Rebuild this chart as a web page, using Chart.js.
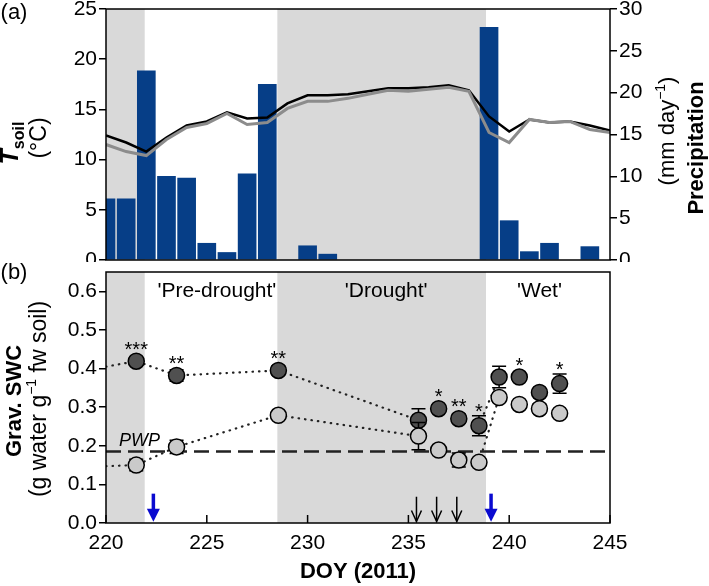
<!DOCTYPE html>
<html>
<head>
<meta charset="utf-8">
<script src="https://cdn.jsdelivr.net/npm/chart.js@4.4.1/dist/chart.umd.min.js"></script>
<style>
  html, body { margin: 0; padding: 0; background: #fff; }
  #wrap { position: relative; width: 709px; height: 586px; }
  #topChart { position: absolute; left: 0; top: 0; }
  #botChart { position: absolute; left: 0; top: 262px; }
</style>
</head>
<body>
<div id="wrap">
  <canvas id="topChart" width="709" height="262"></canvas>
  <canvas id="botChart" width="709" height="324"></canvas>
</div>
<script>
// --- Data: panel (a) ---
const tDays = [220, 221, 222, 223, 224, 225, 226, 227, 228, 229, 230, 231, 232,
               233, 234, 235, 236, 237, 238, 239, 240, 241, 242, 243, 244, 245];
const tsoilBlack = [12.4, 11.7, 10.8, 12.2, 13.4, 13.8, 14.7, 14.1, 14.2, 15.6, 16.4, 16.4, 16.5,
                    16.8, 17.1, 17.1, 17.2, 17.4, 16.9, 14.3, 12.8, 14.0, 13.7, 13.8, 13.4, 12.9];
const tsoilGrey = [11.5, 10.8, 10.4, 12.0, 13.2, 13.6, 14.6, 13.5, 13.7, 15.1, 15.8, 15.8, 16.1,
                   16.5, 16.9, 16.8, 17.0, 17.2, 16.8, 12.7, 11.7, 14.0, 13.7, 13.8, 13.0, 12.7];
const rainDays = [220, 221, 222, 223, 224, 225, 226, 227, 228, 230, 231, 239, 240, 241, 242, 244];
const rainMm = [7.3, 7.3, 22.6, 10.0, 9.8, 2.0, 0.9, 10.3, 21.0, 1.7, 0.7, 27.8, 4.7, 1.0, 2.0, 1.6];

// grey periods (DOY)
const shadeStart = [220, 228.5];
const shadeEnd = [221.92, 238.85];

// --- Data: panel (b) ---
const swcDays = [221.5, 223.5, 228.55, 235.5, 236.5, 237.5, 238.5, 239.5, 240.5, 241.5, 242.5];
const swcDark = [0.419, 0.382, 0.395, 0.266, 0.296, 0.270, 0.252, 0.378, 0.378, 0.338, 0.361];
const swcDarkErr = [0.010, 0.015, 0.012, 0.030, 0.010, 0.012, 0.026, 0.028, 0.010, 0.010, 0.025];
const swcLight = [0.150, 0.197, 0.279, 0.225, 0.189, 0.163, 0.157, 0.325, 0.307, 0.296, 0.284];
const swcLightErr = [0.015, 0.017, 0.010, 0.035, 0.008, 0.018, 0.008, 0.012, 0.008, 0.012, 0.008];
const sigLabels = ['***', '**', '**', '', '*', '**', '*', '', '*', '', '*'];
const dottedRuns = [[0, 1, 2, 3], [6, 7]];
const swcDarkAt220 = 0.405;
const swcLightAt220 = 0.147;
const pwp = 0.185;
const phaseNames = ["'Pre-drought'", "'Drought'", "'Wet'"];
const phaseCentre = [225.5, 233.9, 241.5];
const blackArrowDays = [235.4, 236.4, 237.4];
const blueArrowDays = [222.35, 239.1];

// --- Styles ---
const FONT = "'Liberation Sans', Arial, sans-serif";
const SHADE = '#d9d9d9';
const tickFont = { family: FONT, size: 21 };

// --- Helpers ---
function richText(ctx, x, y, parts, rotate) {
  // parts: [{t, font, dy}] ; (x, y) = centre along text direction, baseline position across it
  ctx.save();
  ctx.translate(x, y);
  if (rotate) ctx.rotate(-Math.PI / 2);
  let w = 0;
  parts.forEach(p => { ctx.font = p.font; w += ctx.measureText(p.t).width; });
  let cx = -w / 2;
  ctx.textBaseline = 'alphabetic';
  ctx.textAlign = 'left';
  ctx.fillStyle = '#000';
  parts.forEach(p => {
    ctx.font = p.font;
    ctx.fillText(p.t, cx, p.dy || 0);
    cx += ctx.measureText(p.t).width;
  });
  ctx.restore();
}

// fixed axis box, no extra padding for the end labels
const fixWidth = w => s => {
  s.width = w;
  s.paddingTop = 0; s.paddingBottom = 0; s.paddingLeft = 0; s.paddingRight = 0;
};

const shadePlugin = {
  id: 'shade',
  beforeDatasetsDraw(chart) {
    const { ctx, chartArea: a, scales: { x } } = chart;
    ctx.save();
    ctx.fillStyle = SHADE;
    shadeStart.forEach((s, i) => {
      const x0 = Math.max(a.left, x.getPixelForValue(s));
      const x1 = Math.min(a.right, x.getPixelForValue(shadeEnd[i]));
      ctx.fillRect(x0, a.top, x1 - x0, a.bottom - a.top);
    });
    ctx.restore();
  }
};

const framePlugin = {
  id: 'frame',
  afterDatasetsDraw(chart) {
    const { ctx, chartArea: a } = chart;
    ctx.save();
    ctx.strokeStyle = '#000';
    ctx.lineWidth = 1.5;
    ctx.strokeRect(a.left, a.top, a.right - a.left, a.bottom - a.top);
    ctx.restore();
  }
};

const topTextPlugin = {
  id: 'topText',
  afterDraw(chart) {
    const ctx = chart.ctx;
    richText(ctx, 14, 19, [{ t: '(a)', font: `22px ${FONT}` }], false);
    richText(ctx, 18, 143, [
      { t: 'T', font: `italic bold 25px ${FONT}` },
      { t: 'soil', font: `bold 16px ${FONT}`, dy: 6 }
    ], true);
    richText(ctx, 46, 138, [{ t: '(°C)', font: `23px ${FONT}` }], true);
    richText(ctx, 674, 131, [
      { t: '(mm day', font: `22px ${FONT}` },
      { t: '\u22121', font: `14px ${FONT}`, dy: -9 },
      { t: ')', font: `22px ${FONT}` }
    ], true);
    richText(ctx, 703, 148, [{ t: 'Precipitation', font: `bold 22px ${FONT}` }], true);
  }
};

const errorBarPlugin = {
  id: 'errorBars',
  beforeDatasetDraw(chart, args) {
    const ds = chart.data.datasets[args.index];
    if (!ds.errorBars) return;
    const { ctx, scales: { x, y } } = chart;
    ctx.save();
    ctx.strokeStyle = '#000';
    ctx.lineWidth = 1.5;
    ds.data.forEach((p, i) => {
      const px = x.getPixelForValue(p.x);
      const y0 = y.getPixelForValue(p.y - ds.errorBars[i]);
      const y1 = y.getPixelForValue(p.y + ds.errorBars[i]);
      ctx.beginPath();
      ctx.moveTo(px, y0); ctx.lineTo(px, y1);
      ctx.moveTo(px - 7, y0); ctx.lineTo(px + 7, y0);
      ctx.moveTo(px - 7, y1); ctx.lineTo(px + 7, y1);
      ctx.stroke();
    });
    ctx.restore();
  }
};

const pwpPlugin = {
  id: 'pwp',
  beforeDatasetsDraw(chart) {
    const { ctx, chartArea: a, scales: { y } } = chart;
    const py = y.getPixelForValue(pwp);
    ctx.save();
    ctx.strokeStyle = '#222';
    ctx.lineWidth = 2.5;
    ctx.setLineDash([15, 7]);
    ctx.beginPath();
    ctx.moveTo(a.left, py); ctx.lineTo(a.right, py);
    ctx.stroke();
    ctx.restore();
  }
};

function arrow(ctx, px, yTop, yTip, blue) {
  ctx.save();
  ctx.strokeStyle = blue ? '#0a0ad0' : '#000';
  ctx.fillStyle = ctx.strokeStyle;
  ctx.lineWidth = blue ? 3.5 : 1.5;
  ctx.beginPath();
  ctx.moveTo(px, yTop);
  ctx.lineTo(px, blue ? yTip - 8 : yTip);
  ctx.stroke();
  if (blue) {
    ctx.beginPath();
    ctx.moveTo(px - 6.5, yTip - 13);
    ctx.lineTo(px + 6.5, yTip - 13);
    ctx.lineTo(px, yTip);
    ctx.closePath();
    ctx.fill();
  } else {
    ctx.beginPath();
    ctx.moveTo(px - 5, yTip - 11);
    ctx.lineTo(px, yTip);
    ctx.lineTo(px + 5, yTip - 11);
    ctx.stroke();
  }
  ctx.restore();
}

const botExtrasPlugin = {
  id: 'botExtras',
  afterDatasetsDraw(chart) {
    const { ctx, chartArea: a, scales: { x, y } } = chart;
    // inward x ticks
    ctx.save();
    ctx.strokeStyle = '#000';
    ctx.lineWidth = 1.5;
    x.ticks.forEach(t => {
      const px = x.getPixelForValue(t.value);
      ctx.beginPath();
      ctx.moveTo(px, a.bottom); ctx.lineTo(px, a.bottom - 8);
      ctx.stroke();
    });
    ctx.restore();
    // significance stars
    ctx.save();
    ctx.font = `20px ${FONT}`;
    ctx.textAlign = 'center';
    ctx.textBaseline = 'alphabetic';
    ctx.fillStyle = '#000';
    sigLabels.forEach((s, i) => {
      if (!s) return;
      const px = x.getPixelForValue(swcDays[i]);
      const pc = y.getPixelForValue(swcDark[i]);
      const top = Math.min(pc - 8, y.getPixelForValue(swcDark[i] + swcDarkErr[i]));
      ctx.fillText(s, px, top - 9 + 11.5);
    });
    ctx.restore();
    // arrows
    blackArrowDays.forEach(d => arrow(ctx, x.getPixelForValue(d), y.getPixelForValue(0.068), y.getPixelForValue(0.004), false));
    blueArrowDays.forEach(d => arrow(ctx, x.getPixelForValue(d), y.getPixelForValue(0.076), y.getPixelForValue(0.003), true));
  },
  afterDraw(chart) {
    const { ctx, scales: { x } } = chart;
    phaseNames.forEach((n, i) => {
      richText(ctx, x.getPixelForValue(phaseCentre[i]), 35, [{ t: n, font: `21px ${FONT}` }], false);
    });
    ctx.save();
    ctx.font = `italic 18px ${FONT}`;
    ctx.fillStyle = '#000';
    ctx.textAlign = 'left';
    ctx.fillText('PWP', 119, 184);
    ctx.restore();
    richText(ctx, 14, 17, [{ t: '(b)', font: `22px ${FONT}` }], false);
    richText(ctx, 21, 139, [{ t: 'Grav. SWC', font: `bold 22px ${FONT}` }], true);
    richText(ctx, 46, 137, [
      { t: '(g water g', font: `23px ${FONT}` },
      { t: '\u22121', font: `14px ${FONT}`, dy: -10 },
      { t: ' fw soil)', font: `23px ${FONT}` }
    ], true);
    richText(ctx, 358, 316, [{ t: 'DOY (2011)', font: `bold 22px ${FONT}` }], false);
  }
};

function trend(values, startVal) {
  const pts = [{ x: 220, y: startVal }];
  dottedRuns.forEach((run, k) => {
    if (k > 0) {
      const prev = dottedRuns[k - 1][dottedRuns[k - 1].length - 1];
      pts.push({ x: (swcDays[prev] + swcDays[run[0]]) / 2, y: null });
    }
    run.forEach(i => pts.push({ x: swcDays[i], y: values[i] }));
  });
  return pts;
}

const yGrid = { drawOnChartArea: false, tickLength: 7, color: '#000', lineWidth: 1.5 };

// --- Panel (a) ---
new Chart(document.getElementById('topChart'), {
  type: 'bar',
  data: {
    datasets: [
      {
        type: 'line', data: tDays.map((d, i) => ({ x: d, y: tsoilGrey[i] })), yAxisID: 'y',
        borderColor: '#8c8c8c', borderWidth: 3, pointRadius: 0, tension: 0, order: 0
      },
      {
        type: 'line', data: tDays.map((d, i) => ({ x: d, y: tsoilBlack[i] })), yAxisID: 'y',
        borderColor: '#000', borderWidth: 2.5, pointRadius: 0, tension: 0, order: 1
      },
      {
        type: 'bar', data: rainDays.map((d, i) => ({ x: d, y: rainMm[i] })), yAxisID: 'y2',
        backgroundColor: '#063e87', barThickness: 18, grouped: false, clip: 0, order: 2
      }
    ]
  },
  options: {
    responsive: false, animation: false, devicePixelRatio: 1,
    layout: { padding: { top: 9, bottom: 2, left: 0, right: 0 }, autoPadding: false },
    plugins: { legend: { display: false }, tooltip: { enabled: false } },
    scales: {
      x: { type: 'linear', min: 220, max: 245, offset: false, display: false },
      y: {
        position: 'left', min: 0, max: 25,
        ticks: { stepSize: 5, includeBounds: false, font: tickFont, color: '#000', padding: 2 },
        grid: yGrid, border: { display: false },
        afterFit: fixWidth(106)
      },
      y2: {
        position: 'right', min: 0, max: 30,
        ticks: { stepSize: 5, includeBounds: false, font: tickFont, color: '#000', padding: 2 },
        grid: yGrid, border: { display: false },
        afterFit: fixWidth(99)
      }
    }
  },
  plugins: [shadePlugin, framePlugin, topTextPlugin]
});

// --- Panel (b) ---
const dotted = { borderColor: '#222', borderWidth: 2.2, borderDash: [0.5, 6], borderCapStyle: 'round', pointRadius: 0, spanGaps: false, showLine: true };
new Chart(document.getElementById('botChart'), {
  type: 'scatter',
  data: {
    datasets: [
      { type: 'line', data: trend(swcLight, swcLightAt220), ...dotted, order: 3 },
      { type: 'line', data: trend(swcDark, swcDarkAt220), ...dotted, order: 2 },
      {
        data: swcDays.map((d, i) => ({ x: d, y: swcDark[i] })), errorBars: swcDarkErr,
        pointRadius: 8, pointBackgroundColor: '#505050', pointBorderColor: '#000', pointBorderWidth: 1.5, order: 1
      },
      {
        data: swcDays.map((d, i) => ({ x: d, y: swcLight[i] })), errorBars: swcLightErr,
        pointRadius: 8, pointBackgroundColor: '#cacaca', pointBorderColor: '#000', pointBorderWidth: 1.5, order: 0
      }
    ]
  },
  options: {
    responsive: false, animation: false, devicePixelRatio: 1,
    layout: { padding: { top: 10, bottom: 0, left: 0, right: 99 }, autoPadding: false },
    plugins: { legend: { display: false }, tooltip: { enabled: false } },
    scales: {
      x: {
        type: 'linear', min: 220, max: 245,
        ticks: { stepSize: 5, includeBounds: false, font: tickFont, color: '#000', padding: 8 },
        grid: { display: false, drawTicks: false }, border: { display: false },
        afterFit: s => { s.height = 63; s.paddingLeft = 0; s.paddingRight = 0; }
      },
      y: {
        min: 0, max: 0.65,
        ticks: { stepSize: 0.1, includeBounds: false, font: tickFont, color: '#000', padding: 2, callback: v => v.toFixed(1) },
        grid: yGrid, border: { display: false },
        afterFit: fixWidth(106)
      }
    }
  },
  plugins: [shadePlugin, pwpPlugin, errorBarPlugin, framePlugin, botExtrasPlugin]
});
</script>
</body>
</html>
